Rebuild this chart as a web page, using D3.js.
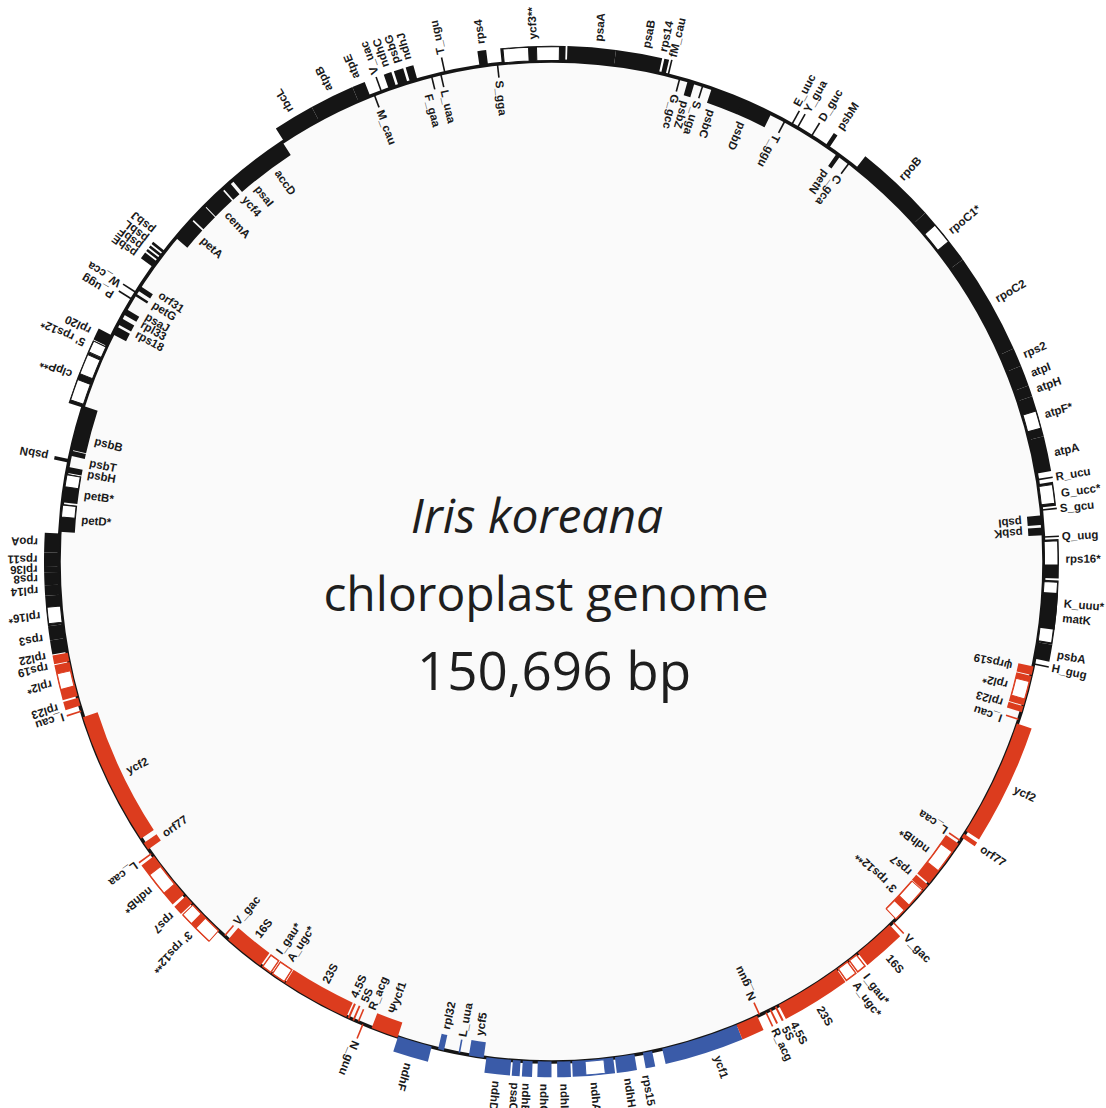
<!DOCTYPE html>
<html>
<head>
<meta charset="utf-8">
<script src="https://cdn.jsdelivr.net/npm/d3@7"></script>
<style>
  html, body { margin: 0; padding: 0; background: #ffffff; }
  svg { display: block; }
  .lab { font-family: "Liberation Sans", Arial, sans-serif; font-size: 11.5px; font-weight: bold; fill: #1a1a1a; }
  .title { font-family: "Open Sans", Lato, sans-serif; font-weight: 400; fill: #1e1e1e; }
</style>
</head>
<body>
<svg id="map" width="1106" height="1108"></svg>
<script>
// Iris koreana plastome, coordinates in bp (LSC starts next to trnH-GUG)
const genomeLength = 150696;

const regions = [
  { name: "LSC", start: 0,      end: 84725 },
  { name: "IRb", start: 84725,  end: 110406 },
  { name: "SSC", start: 110406, end: 127275 },
  { name: "IRa", start: 127275, end: 150696 }
];

// side: "out" = drawn outside the ring, "in" = inside; lab = label anchor (bp) when it is shifted
const genes = [
  { name: "psbA",   start: 314,   end: 1109,  side: "out" },
  { name: "K_uuu*", start: 1109,  end: 4123,  side: "out", introns: [[1193, 4040]], lab: 3077 },
  { name: "matK",   start: 1821,  end: 3537,  side: "out", lab: 2407 },
  { name: "rps16*", start: 4207,  end: 6049,  side: "out", introns: [[4835, 5965]] },
  { name: "psbK",   start: 6258,  end: 6635,  side: "in" },
  { name: "psbI",   start: 6760,  end: 7221,  side: "in" },
  { name: "G_ucc*", start: 7598,  end: 8728,  side: "out", introns: [[7723, 8602]] },
  { name: "atpA",   start: 9230,  end: 10884, side: "out" },
  { name: "atpF*",  start: 10884, end: 12830, side: "out", introns: [[11281, 12119]] },
  { name: "atpH",   start: 12830, end: 13353, side: "out" },
  { name: "atpI",   start: 13353, end: 14337, side: "out" },
  { name: "rps2",   start: 14337, end: 15216, side: "out" },
  { name: "rpoC2",  start: 15216, end: 20009, side: "out" },
  { name: "rpoC1*", start: 20009, end: 22814, side: "out", introns: [[21077, 22081]] },
  { name: "rpoB",   start: 22814, end: 26686, side: "out" },
  { name: "petN",   start: 27649, end: 27858, side: "in" },
  { name: "psbM",   start: 28318, end: 28527, side: "out" },
  { name: "psbD",   start: 31583, end: 33174, side: "in", lab: 32672 },
  { name: "psbC",   start: 33120, end: 34723, side: "in", lab: 34346 },
  { name: "psbZ",   start: 35602, end: 35949, side: "in" },
  { name: "rps14",  start: 37067, end: 37297, side: "out", lab: 37444 },
  { name: "psaB",   start: 37402, end: 39620, side: "out", lab: 38239 },
  { name: "psaA",   start: 39620, end: 41923, side: "out", lab: 40479 },
  { name: "ycf3**", start: 42007, end: 45104, side: "out", introns: [[42299, 43388], [43765, 44979]] },
  { name: "rps4",   start: 45774, end: 46193, side: "out" },
  { name: "ndhJ",   start: 49290, end: 49667, side: "out" },
  { name: "psbG",   start: 49792, end: 50253, side: "out" },
  { name: "ndhC",   start: 50378, end: 50755, side: "out" },
  { name: "atpE",   start: 51718, end: 52346, side: "out" },
  { name: "atpB",   start: 52346, end: 54481, side: "out" },
  { name: "rbcL",   start: 54481, end: 56448, side: "out" },
  { name: "accD",   start: 56532, end: 59588, side: "in", lab: 57536 },
  { name: "psaI",   start: 59755, end: 60174, side: "in", lab: 58834 },
  { name: "ycf4",   start: 60257, end: 61388, side: "in", lab: 59671 },
  { name: "cemA",   start: 61430, end: 62267, side: "in", lab: 60864 },
  { name: "petA",   start: 62350, end: 63481, side: "in", lab: 62644 },
  { name: "psbJ",   start: 64318, end: 64443, side: "out", lab: 63941 },
  { name: "psbL",   start: 64527, end: 64653, side: "out", lab: 64443 },
  { name: "psbF",   start: 64737, end: 64862, side: "out", lab: 64862 },
  { name: "psbE",   start: 64946, end: 65281, side: "out", lab: 65281 },
  { name: "orf31",  start: 66369, end: 66620, side: "in", lab: 66160 },
  { name: "petG",   start: 66788, end: 66913, side: "in", lab: 66746 },
  { name: "psaJ",   start: 67667, end: 67960, side: "in", lab: 67436 },
  { name: "rpl33",  start: 68169, end: 68504, side: "in", lab: 67897 },
  { name: "rps18",  start: 68629, end: 69048, side: "in", lab: 68462 },
  { name: "rpl20",  start: 69111, end: 69676, side: "out" },
  { name: "5' rps12*", start: 69718, end: 70304, side: "out", introns: [[69740, 70290]] },
  { name: "clpP**", start: 70304, end: 72857, side: "out", introns: [[70429, 71392], [71685, 72690]] },
  { name: "psbB",   start: 72773, end: 74950, side: "in", lab: 74239 },
  { name: "psbT",   start: 74992, end: 75243, side: "in", lab: 75369 },
  { name: "psbN",   start: 75411, end: 75578, side: "out" },
  { name: "psbH",   start: 75787, end: 76080, side: "in" },
  { name: "petB*",  start: 76122, end: 77504, side: "in", introns: [[76164, 76750]], lab: 77001 },
  { name: "petD*",  start: 77588, end: 78927, side: "in", introns: [[77630, 78215]] },
  { name: "rpoA",   start: 79011, end: 79932, side: "out" },
  { name: "rps11",  start: 79932, end: 80601, side: "out" },
  { name: "rpl36",  start: 80601, end: 80853, side: "out" },
  { name: "rps8",   start: 80853, end: 81460, side: "out" },
  { name: "rpl14",  start: 81460, end: 81941, side: "out" },
  { name: "rpl16*", start: 81941, end: 83364, side: "out", introns: [[82485, 83260]], lab: 82862 },
  { name: "rps3",   start: 83364, end: 84034, side: "out", lab: 83908 },
  { name: "rpl22",  start: 84034, end: 84704, side: "out", lab: 84746 },
  // IRb
  { name: "rps19",  start: 84746, end: 85164, side: "out", lab: 85248 },
  { name: "rpl2*",  start: 85206, end: 86881, side: "out", introns: [[85625, 86378]] },
  { name: "rpl23",  start: 86965, end: 87362, side: "out" },
  { name: "ycf2",   start: 87927, end: 94415, side: "in" },
  { name: "orf77",  start: 94666, end: 95043, side: "in" },
  { name: "ndhB*",  start: 95462, end: 97806, side: "out", introns: [[96048, 97136]] },
  { name: "rps7",   start: 97932, end: 98392, side: "out" },
  { name: "3' rps12**", start: 98476, end: 100234, side: "out", introns: [[98476, 99062], [99355, 100234]] },
  { name: "16S",    start: 100862, end: 102871, side: "in" },
  { name: "I_gau*", start: 102955, end: 103499, side: "in", introns: [[102995, 103460]] },
  { name: "A_ugc*", start: 103541, end: 104294, side: "in", introns: [[103580, 104255]] },
  { name: "23S",    start: 104336, end: 107727, side: "in" },
  { name: "4.5S",   start: 107800, end: 107900, side: "in", lab: 107643 },
  { name: "5S",     start: 108060, end: 108150, side: "in", lab: 108229 },
  { name: "\u03A8ycf1", start: 109066, end: 110406, side: "in" },
  // SSC
  { name: "ndhF",   start: 110420, end: 112122, side: "out" },
  { name: "rpl32",  start: 112457, end: 112750, side: "in" },
  { name: "ycf5",   start: 113985, end: 114717, side: "in" },
  { name: "ndhD",   start: 114843, end: 116057, side: "out" },
  { name: "psaC",   start: 116141, end: 116517, side: "out" },
  { name: "ndhE",   start: 116622, end: 117103, side: "out" },
  { name: "ndhG",   start: 117355, end: 118024, side: "out" },
  { name: "ndhI",   start: 118296, end: 118945, side: "out" },
  { name: "ndhA*",  start: 119029, end: 121038, side: "out", introns: [[119657, 120578]] },
  { name: "ndhH",   start: 121122, end: 122084, side: "out" },
  { name: "rps15",  start: 122503, end: 122963, side: "out", lab: 122461 },
  { name: "ycf1",   start: 123466, end: 128364, side: "out" },
  // IRa
  { name: "5S",     start: 129030, end: 129120, side: "out", lab: 129326 },
  { name: "4.5S",   start: 129320, end: 129420, side: "out", lab: 129787 },
  { name: "23S",    start: 129536, end: 132843, side: "out" },
  { name: "A_ugc*", start: 132885, end: 133512, side: "out", introns: [[132925, 133470]] },
  { name: "I_gau*", start: 133554, end: 134057, side: "out", introns: [[133595, 134015]] },
  { name: "16S",    start: 134140, end: 136191, side: "out" },
  { name: "3' rps12**", start: 136610, end: 138494, side: "in", introns: [[136610, 137196], [137531, 138494]] },
  { name: "rps7",   start: 138536, end: 138870, side: "in" },
  { name: "ndhB*",  start: 138954, end: 141340, side: "in", introns: [[139708, 140838]] },
  { name: "orf77",  start: 141675, end: 141884, side: "out" },
  { name: "ycf2",   start: 142052, end: 147787, side: "out" },
  { name: "rpl23",  start: 148373, end: 148666, side: "in" },
  { name: "rpl2*",  start: 148708, end: 150173, side: "in", introns: [[149022, 149880]] },
  { name: "\u03C8rps19", start: 150215, end: 150634, side: "in" }
];

// transfer RNA genes without drawn introns: [label, position (bp), side, label anchor]
const trnas = [
  ["H_gug", 63, "out"],
  ["Q_uug", 6174, "out"],
  ["S_gcu", 7472, "out"],
  ["R_ucu", 8937, "out"],
  ["C_gca", 27104, "in"],
  ["D_guc", 29344, "out"],
  ["Y_gua", 30139, "out"],
  ["E_uuc", 30453, "out", 30704],
  ["T_ggu", 30830, "in"],
  ["S_uga", 35183, "in"],
  ["G_gcc", 36355, "in"],
  ["fM_cau", 36941, "out"],
  ["S_gga", 45314, "in"],
  ["T_ugu", 47909, "out"],
  ["L_uaa", 48118, "in"],
  ["F_gaa", 48579, "in", 48956],
  ["V_uac", 51132, "out"],
  ["M_cau", 51509, "in"],
  ["W_cca", 66746, "out", 66850],
  ["P_ugg", 67123, "out", 67457],
  ["I_cau", 87634, "out"],
  ["L_caa", 95294, "out"],
  ["V_gac", 100611, "in"],
  ["R_acg", 108354, "in", 108731],
  ["N_guu", 108605, "out"],
  ["L_uua", 113503, "in"],
  ["N_guu", 128490, "in"],
  ["R_acg", 128824, "out", 128866],
  ["V_gac", 136401, "out"],
  ["L_caa", 141508, "in"],
  ["I_cau", 147996, "in", 147745]
];

const titleLines = ["Iris koreana", "chloroplast genome", "150,696 bp"];

// ---- drawing ----
const cx = 551.5, cy = 561.5, squash = 1.0163;
const R = 492.5;
const regionColor = { LSC: "#151515", IRb: "#dc3c1e", SSC: "#3a5ba8", IRa: "#dc3c1e" };
const theta0 = 101.95 * Math.PI / 180;
const angle = d3.scaleLinear().domain([0, genomeLength]).range([theta0, theta0 - 2 * Math.PI]);
const radii = { out: [492, 507.5], in: [477.5, 493] };
const labelR = { out: 514, in: 472 };
const tickR = { out: [493, 508], in: [492, 479] };
const tickLabelR = { out: 511, in: 476 };

const svg = d3.select("#map");
svg.append("rect").attr("width", 1106).attr("height", 1108).attr("fill", "#ffffff");

const g = svg.append("g").attr("transform", `translate(${cx},${cy}) scale(1,${squash})`);
g.append("circle").attr("r", R).attr("fill", "#fafafa");
g.append("circle").attr("r", R).attr("fill", "none").attr("stroke", "#151515").attr("stroke-width", 3.5);

const arc = d3.arc();
const regionAt = p => regions.find(r => p >= r.start && p < r.end) || regions[regions.length - 1];
const pieces = (s, e) => regions
  .map(r => [Math.max(s, r.start), Math.min(e, r.end), r.name])
  .filter(d => d[1] > d[0]);

const geneLayer = g.append("g");
genes.forEach(gn => {
  const [r0, r1] = radii[gn.side];
  pieces(gn.start, gn.end).forEach(([s, e, rn]) => {
    geneLayer.append("path")
      .attr("d", arc({ innerRadius: r0, outerRadius: r1, startAngle: angle(e), endAngle: angle(s) }))
      .attr("fill", regionColor[rn]);
  });
  (gn.introns || []).forEach(([s, e]) => {
    const col = regionColor[regionAt((s + e) / 2).name];
    geneLayer.append("path")
      .attr("d", arc({ innerRadius: r0 + 1, outerRadius: r1 - 1, startAngle: angle(e), endAngle: angle(s) }))
      .attr("fill", "#ffffff").attr("stroke", col).attr("stroke-width", 1);
  });
});

const tickLayer = g.append("g");
trnas.forEach(([name, pos, side]) => {
  const a = angle(pos);
  const [ra, rb] = tickR[side];
  tickLayer.append("line")
    .attr("x1", ra * Math.sin(a)).attr("y1", -ra * Math.cos(a))
    .attr("x2", rb * Math.sin(a)).attr("y2", -rb * Math.cos(a))
    .attr("stroke", regionColor[regionAt(pos).name]).attr("stroke-width", 1.6);
});

const labelLayer = g.append("g");
function addLabel(text, pos, side, r) {
  const deg = angle(pos) * 180 / Math.PI;
  const tf = side === "out"
    ? `rotate(${deg - 90}) translate(${r},0)`
    : `rotate(${deg - 90}) translate(${r},0) rotate(180)`;
  labelLayer.append("text").attr("class", "lab")
    .attr("transform", tf).attr("dy", "0.35em").text(text);
}
genes.forEach(gn => addLabel(gn.name, gn.lab != null ? gn.lab : (gn.start + gn.end) / 2, gn.side, labelR[gn.side]));
trnas.forEach(([name, pos, side, lab]) => addLabel(name, lab != null ? lab : pos, side, tickLabelR[side]));

// centre caption
svg.append("text").attr("class", "title").attr("x", 537).attr("y", 533)
  .attr("text-anchor", "middle").style("font-size", "48px").style("font-style", "italic")
  .text(titleLines[0]);
svg.append("text").attr("class", "title").attr("x", 546).attr("y", 611)
  .attr("text-anchor", "middle").style("font-size", "48px").text(titleLines[1]);
svg.append("text").attr("class", "title").attr("x", 554).attr("y", 690)
  .attr("text-anchor", "middle").style("font-size", "53px").text(titleLines[2]);
</script>
</body>
</html>
